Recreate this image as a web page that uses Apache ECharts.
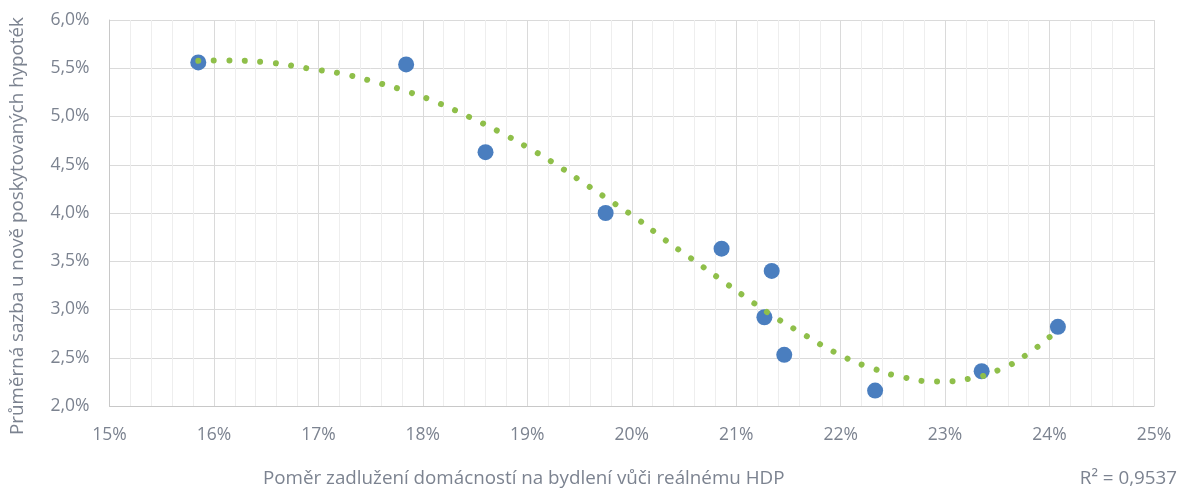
<!DOCTYPE html>
<html>
<head>
<meta charset="utf-8">
<script src="https://cdn.jsdelivr.net/npm/echarts@6/dist/echarts.min.js"></script>
<style>
  html, body { margin: 0; padding: 0; background: #fff; }
  #chart { width: 1177px; height: 489px; }
</style>
</head>
<body>
<div id="chart"></div>
<script>
// Debt ratio (% of real GDP) vs. average new mortgage rate (%)
const debtRatio = [15.85, 17.84, 18.60, 19.75, 20.86, 21.34, 21.27, 21.46, 22.33, 23.35, 24.08];
const mortgageRate = [5.56, 5.54, 4.63, 4.00, 3.63, 3.40, 2.92, 2.53, 2.16, 2.36, 2.82];

// Polynomial trend line, sampled along its course
const trendX = [15.85, 16.10, 16.48, 16.95, 17.26, 17.56, 17.86, 18.16, 18.44, 18.72, 19.00, 19.27, 19.53, 19.79, 20.06, 20.31, 20.56, 20.82, 21.08, 21.33, 21.60, 22.01, 22.31, 22.61, 22.92, 23.23, 23.53, 23.80, 24.05];
const trendY = [5.577, 5.58, 5.563, 5.49, 5.435, 5.352, 5.256, 5.135, 4.997, 4.848, 4.682, 4.506, 4.319, 4.130, 3.933, 3.728, 3.536, 3.335, 3.135, 2.949, 2.772, 2.520, 2.389, 2.295, 2.254, 2.282, 2.381, 2.547, 2.762];

const rSquared = 'R² = 0,9537';
const xTitle = 'Poměr zadlužení domácností na bydlení vůči reálnému HDP';
const yTitle = 'Průměrná sazba u nově poskytovaných hypoték';

const font = 'Open Sans, Noto Sans, sans-serif';
const textColor = '#7c8390';
const fontSize = 17.5;
const titleSize = 18.8;

const chart = echarts.init(document.getElementById('chart'), null, { renderer: 'canvas' });

chart.setOption({
  animation: false,
  backgroundColor: '#ffffff',
  grid: { left: 109.5, right: 23, top: 20, bottom: 83, containLabel: false },
  xAxis: {
    type: 'value',
    min: 15, max: 25, interval: 1,
    axisLine: { show: true, lineStyle: { color: '#c8c8c8', width: 1 } },
    axisTick: { show: false },
    axisLabel: {
      color: textColor, fontSize: fontSize, fontFamily: font, margin: 20,
      formatter: v => v + '%'
    },
    splitLine: { show: true, lineStyle: { color: '#dadada', width: 1 } },
    minorTick: { show: false, splitNumber: 5 },
    minorSplitLine: { show: true, lineStyle: { color: '#eeeeee', width: 1 } }
  },
  yAxis: {
    type: 'value',
    min: 2, max: 6, interval: 0.5,
    axisLine: { show: true, lineStyle: { color: '#c8c8c8', width: 1 } },
    axisTick: { show: false },
    axisLabel: {
      color: textColor, fontSize: fontSize, fontFamily: font, margin: 20,
      formatter: v => v.toFixed(1).replace('.', ',') + '%'
    },
    splitLine: { show: true, lineStyle: { color: '#dadada', width: 1 } }
  },
  series: [
    {
      type: 'scatter',
      data: debtRatio.map((x, i) => [x, mortgageRate[i]]),
      symbolSize: 16,
      itemStyle: { color: '#4a7ebf', opacity: 1 },
      z: 2
    },
    {
      type: 'line',
      data: trendX.map((x, i) => [x, trendY[i]]),
      smooth: true,
      showSymbol: false,
      symbol: 'none',
      lineStyle: { color: '#8fbf4a', width: 6, type: [0.01, 15.5], cap: 'round' },
      z: 3
    }
  ],
  graphic: [
    {
      type: 'text',
      left: 263,
      top: 469,
      style: { text: xTitle, fill: textColor, fontSize: titleSize, fontFamily: font }
    },
    {
      type: 'text',
      x: 8,
      y: 226,
      rotation: Math.PI / 2,
      style: {
        text: yTitle, fill: textColor, fontSize: titleSize, fontFamily: font,
        align: 'center', verticalAlign: 'top'
      }
    },
    {
      type: 'text',
      right: 0,
      top: 469,
      style: { text: rSquared, fill: textColor, fontSize: titleSize, fontFamily: font }
    }
  ]
});
</script>
</body>
</html>
